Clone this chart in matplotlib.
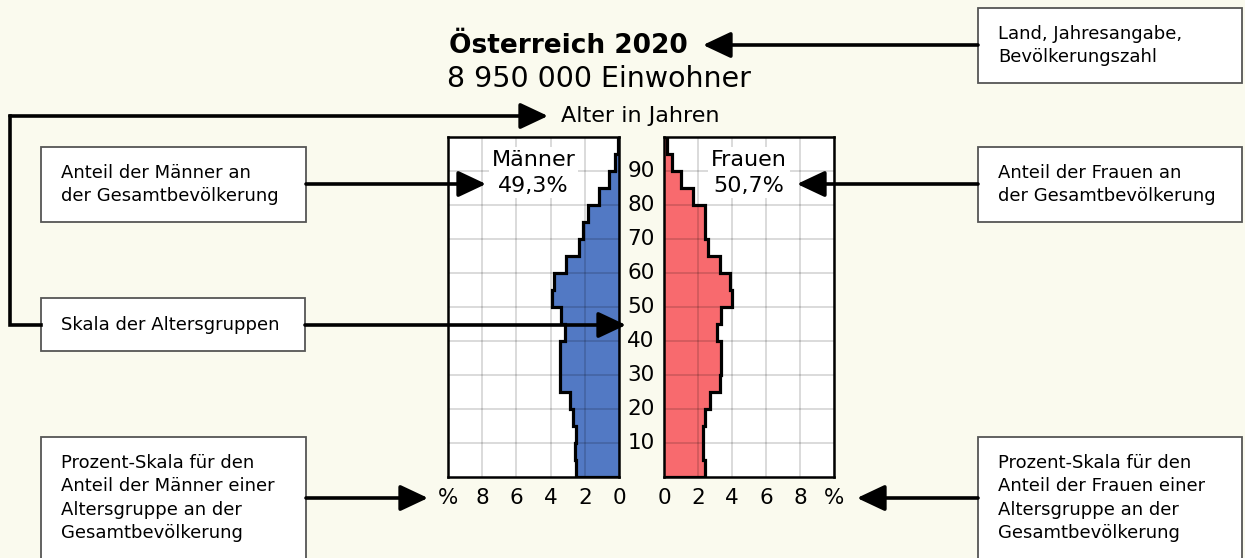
import numpy as np
import matplotlib.pyplot as plt
from matplotlib.patches import Rectangle
from matplotlib.transforms import blended_transform_factory

plt.rcParams['font.family'] = ['DejaVu Sans']

# 5-year age groups, 0-4 ... 95-99, share of total population in %
age_edges = np.arange(0, 105, 5)
men = [2.52, 2.56, 2.52, 2.68, 2.88, 3.43, 3.43, 3.43, 3.18, 3.37,
       3.94, 3.82, 3.12, 2.33, 2.10, 1.84, 1.15, 0.60, 0.24, 0.04]
women = [2.39, 2.29, 2.29, 2.39, 2.68, 3.27, 3.35, 3.35, 3.12, 3.37,
         4.01, 3.88, 3.27, 2.58, 2.39, 2.39, 1.68, 1.02, 0.48, 0.18]
pct_ticks = [0, 2, 4, 6, 8, 10]
pct_labels = ["0", "2", "4", "6", "8", "%"]
age_ticks = [10, 20, 30, 40, 50, 60, 70, 80, 90]

title = "Österreich 2020"
subtitle = "8 950 000 Einwohner"
men_label = "Männer\n49,3%"
women_label = "Frauen\n50,7%"

BG = "#fafaee"
BLUE = "#5279c4"
RED = "#f86a6e"

W, H = 1245, 558
fig = plt.figure(figsize=(W / 100, H / 100), dpi=100)
fig.patch.set_facecolor(BG)


def px_axes(x0, y0, x1, y1, **kw):
    return fig.add_axes([x0 / W, 1 - y1 / H, (x1 - x0) / W, (y1 - y0) / H], **kw)


ax_m = px_axes(448, 137, 619, 477)
ax_f = px_axes(664, 137, 834, 477)

for ax, vals, col in ((ax_m, men, BLUE), (ax_f, women, RED)):
    ax.set_facecolor("white")
    ax.set_ylim(0, 100)
    ax.set_xticks(pct_ticks)
    ax.set_xticklabels(pct_labels)
    ax.set_yticks(age_ticks)
    ax.set_yticklabels([])
    ax.grid(True, color="black", alpha=0.17, lw=1.2)
    ax.set_axisbelow(False)
    ax.tick_params(length=0, labelsize=15.5, pad=8)
    ax.stairs(vals, age_edges, orientation="horizontal", fill=True,
              color=col, lw=0, zorder=2)
    ax.stairs(vals, age_edges, orientation="horizontal", color="black",
              lw=2.3, zorder=3)
    for s in ax.spines.values():
        s.set_linewidth(1.8)
        s.set_zorder(4)

ax_m.set_xlim(10, 0)
ax_f.set_xlim(0, 10)

ax_m.text(5, 89.5, men_label, ha="center", va="center", fontsize=16,
          linespacing=1.35, zorder=3,
          bbox=dict(fc="white", ec="none", pad=2))
ax_f.text(5, 89.5, women_label, ha="center", va="center", fontsize=16,
          linespacing=1.35, zorder=3,
          bbox=dict(fc="white", ec="none", pad=2))

tr = blended_transform_factory(fig.transFigure, ax_m.transData)
for a in age_ticks:
    ax_m.text(641 / W, a, str(a), transform=tr, ha="center", va="center",
              fontsize=15.5, clip_on=False)

# overlay in pixel coordinates for titles, boxes and arrows
ov = px_axes(0, 0, W, H, zorder=10)
ov.set_xlim(0, W)
ov.set_ylim(H, 0)
ov.axis("off")
ov.patch.set_alpha(0)

ov.text(449, 46, title, fontsize=19, fontweight="bold", va="center")
ov.text(447, 79, subtitle, fontsize=20.5, va="center")
ov.text(561, 116, "Alter in Jahren", fontsize=16, va="center")

boxes = [
    (978, 8, 1242, 83, "Land, Jahresangabe,\nBevölkerungszahl"),
    (41, 147, 306, 222, "Anteil der Männer an\nder Gesamtbevölkerung"),
    (978, 147, 1242, 222, "Anteil der Frauen an\nder Gesamtbevölkerung"),
    (41, 298, 305, 351, "Skala der Altersgruppen"),
    (41, 437, 306, 575, "Prozent-Skala für den\nAnteil der Männer einer\n"
                        "Altersgruppe an der\nGesamtbevölkerung"),
    (978, 437, 1242, 575, "Prozent-Skala für den\nAnteil der Frauen einer\n"
                          "Altersgruppe an der\nGesamtbevölkerung"),
]
for x0, y0, x1, y1, txt in boxes:
    ov.add_patch(Rectangle((x0, y0), x1 - x0, y1 - y0, fc="white",
                           ec="#555555", lw=1.3))
    if y1 < H:
        ov.text(x0 + 20, (y0 + y1) / 2, txt, fontsize=13, va="center",
                linespacing=1.3)
    else:
        ov.text(x0 + 20, 498, txt, fontsize=13, va="center",
                linespacing=1.4)

arrow = dict(arrowstyle="-|>,head_length=0.85,head_width=0.4", lw=2.6,
             color="black", shrinkA=0, shrinkB=0, mutation_scale=20)


def arr(x0, y0, x1, y1):
    ov.annotate("", xy=(x1, y1), xytext=(x0, y0), arrowprops=arrow)


arr(978, 45, 703, 45)
arr(306, 184, 486, 184)
arr(978, 184, 797, 184)
arr(305, 325, 626, 325)
arr(306, 498, 428, 498)
arr(978, 498, 857, 498)
ov.plot([41, 10, 10], [325, 325, 116], color="black", lw=2.6,
        solid_joinstyle="miter")
arr(10, 116, 548, 116)

fig.savefig("out.png", dpi=100, facecolor=BG)
